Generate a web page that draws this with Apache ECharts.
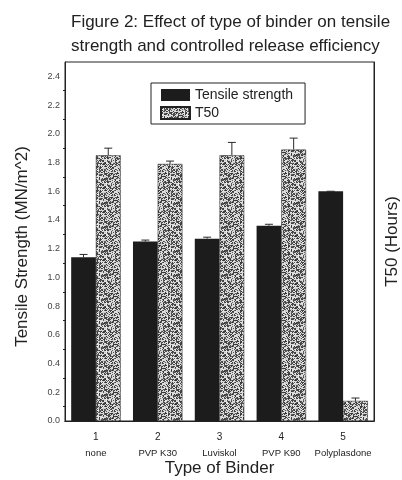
<!DOCTYPE html>
<html>
<head>
<meta charset="utf-8">
<title>Figure 2</title>
<script src="https://cdn.jsdelivr.net/npm/echarts@6/dist/echarts.min.js"></script>
<style>
  html, body { margin: 0; padding: 0; background: #fff; }
  #chart { width: 402px; height: 480px; }
</style>
</head>
<body>
<div id="chart"></div>
<script>
// data
var binderNums = ['1', '2', '3', '4', '5'];
var binderNames = ['none', 'PVP K30', 'Luviskol', 'PVP K90', 'Polyplasdone'];
var tensile = [1.14, 1.25, 1.27, 1.36, 1.60];
var tensileErr = [0.02, 0.01, 0.01, 0.01, 0.0];
var t50 = [1.85, 1.79, 1.85, 1.89, 0.14];
var t50Err = [0.05, 0.02, 0.09, 0.08, 0.02];
var yTicks = [0, 0.2, 0.4, 0.6, 0.8, 1.0, 1.2, 1.4, 1.6, 1.8, 2.0, 2.2, 2.4];

// grey speckle texture for the T50 bars (like the scanned print)
function speckle() {
    var n = 24;
    var c = document.createElement('canvas');
    c.width = n; c.height = n;
    var ctx = c.getContext('2d');
    var img = ctx.createImageData(n, n);
    for (var i = 0; i < n * n; i++) {
        var f = Math.sin(i * 12.9898 + 78.233) * 43758.5453;
        f = f - Math.floor(f);
        var v = f < 0.5 ? 45 + Math.floor(f * 120) : 165 + Math.floor(f * 70);
        img.data[i * 4] = v;
        img.data[i * 4 + 1] = v;
        img.data[i * 4 + 2] = v;
        img.data[i * 4 + 3] = 255;
    }
    ctx.putImageData(img, 0, 0);
    return c;
}
var pattern = { image: speckle(), repeat: 'repeat' };

var cats = binderNums.map(function (n, i) { return n + '\n' + binderNames[i]; });

function errData(vals, errs) {
    return vals.map(function (v, i) { return [i, v, errs[i]]; });
}

function errRender(side) {
    return function (params, api) {
        var i = api.value(0);
        var v = api.value(1);
        var e = api.value(2);
        var bw = api.size([1, 0])[0] * 0.8 / 2;
        var base = api.coord([i, v]);
        var top = api.coord([i, v + e]);
        var x = base[0] + side * bw / 2;
        var cap = 4;
        return {
            type: 'group',
            children: [
                { type: 'line', shape: { x1: x, y1: base[1], x2: x, y2: top[1] }, style: { stroke: '#2a2a2a', lineWidth: 1 } },
                { type: 'line', shape: { x1: x - cap, y1: top[1], x2: x + cap, y2: top[1] }, style: { stroke: '#2a2a2a', lineWidth: 1 } }
            ]
        };
    };
}

var chart = echarts.init(document.getElementById('chart'));
chart.setOption({
    animation: false,
    backgroundColor: '#fff',
    textStyle: { fontFamily: 'Liberation Sans, Arial, sans-serif' },
    title: {
        text: 'Figure 2: Effect of type of binder on tensile\nstrength and controlled release efficiency',
        left: 66, top: 5,
        textStyle: { fontSize: 17, fontWeight: 'normal', color: '#222', lineHeight: 24 }
    },
    legend: {
        data: [{ name: 'Tensile strength', icon: 'rect' }, { name: 'T50', icon: 'rect' }],
        orient: 'vertical',
        left: 151, top: 83,
        padding: [5, 12, 4, 9],
        itemGap: 4,
        itemWidth: 29, itemHeight: 12,
        borderColor: '#222', borderWidth: 1,
        textStyle: { fontSize: 14, color: '#222' }
    },
    grid: {
        left: 65, right: 28, top: 62, bottom: 59,
        outerBoundsMode: 'none', containLabel: false,
        show: true, borderColor: '#222', borderWidth: 1
    },
    xAxis: [{
        type: 'category',
        data: cats,
        name: 'Type of Binder',
        nameLocation: 'middle',
        nameGap: 39,
        nameMoveOverlap: false,
        nameTextStyle: { fontSize: 17, color: '#222' },
        axisLine: { lineStyle: { color: '#222' } },
        axisTick: { inside: false, length: 4, lineStyle: { color: '#222' } },
        axisLabel: {
            interval: 0,
            hideOverlap: false,
            margin: 8,
            formatter: function (v) { var p = v.split('\n'); return '{n|' + p[0] + '}\n{t|' + p[1] + '}'; },
            rich: {
                n: { fontSize: 10, color: '#222', lineHeight: 17 },
                t: { fontSize: 9.5, color: '#222', lineHeight: 15 }
            }
        }
    }, {
        type: 'category',
        data: cats,
        position: 'top',
        axisLine: { lineStyle: { color: '#222' } },
        axisTick: { inside: true, alignWithLabel: true, interval: 0, length: 4, lineStyle: { color: '#222' } },
        axisLabel: { show: false }
    }],
    yAxis: [{
        type: 'value',
        min: 0, max: 2.5, interval: 0.2,
        name: 'Tensile Strength (MN/m^2)',
        nameLocation: 'middle',
        nameGap: 34,
        nameMoveOverlap: false,
        nameTextStyle: { fontSize: 17, color: '#222', padding: [0, 0, 0, -10] },
        splitLine: { show: false },
        axisLine: { show: true, lineStyle: { color: '#222' } },
        axisTick: { length: 4, lineStyle: { color: '#222' } },
        minorTick: { show: true, splitNumber: 2, length: 2, lineStyle: { color: '#222' } },
        axisLabel: {
            fontSize: 9, color: '#444', margin: 5,
            formatter: function (v) { return yTicks.indexOf(Math.round(v * 10) / 10) >= 0 ? v.toFixed(1) : ''; }
        }
    }, {
        type: 'value',
        min: 0, max: 2.5, interval: 0.2,
        position: 'right',
        name: 'T50 (Hours)',
        nameLocation: 'middle',
        nameRotate: 90,
        nameGap: 10,
        nameTextStyle: { fontSize: 17, color: '#222' },
        splitLine: { show: false },
        axisLine: { show: true, lineStyle: { color: '#222' } },
        axisTick: { inside: true, length: 4, lineStyle: { color: '#222' } },
        axisLabel: { show: false }
    }],
    series: [{
        name: 'Tensile strength',
        type: 'bar',
        data: tensile,
        barGap: 0,
        barCategoryGap: '20%',
        itemStyle: { color: '#1c1c1c' }
    }, {
        name: 'T50',
        type: 'bar',
        data: t50,
        barGap: 0,
        barCategoryGap: '20%',
        itemStyle: { color: pattern, borderColor: '#222', borderWidth: 0.5 }
    }, {
        name: 'tensileErr',
        type: 'custom',
        data: errData(tensile, tensileErr),
        encode: { x: 0, y: 1 },
        renderItem: errRender(-1),
        z: 5
    }, {
        name: 't50Err',
        type: 'custom',
        data: errData(t50, t50Err),
        encode: { x: 0, y: 1 },
        renderItem: errRender(1),
        z: 5
    }]
});
</script>
</body>
</html>
